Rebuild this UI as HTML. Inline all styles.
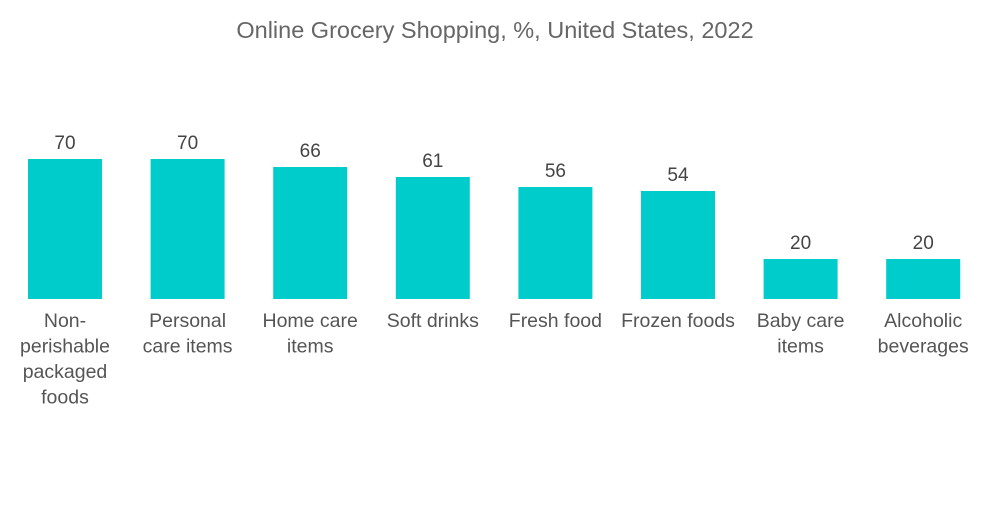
<!DOCTYPE html>
<html><head><meta charset="utf-8"><style>
body{margin:0;background:#fff;width:1000px;height:504px;overflow:hidden;font-family:"Liberation Sans",sans-serif}
</style></head><body>
<svg id="chart" width="1000" height="504">
<text x="495" y="38" text-anchor="middle" font-size="23.5" fill="#666">Online Grocery Shopping, %, United States, 2022</text>
<g id="bars"></g>
</svg>
<script>
const categories=[["Non-","perishable","packaged","foods"],["Personal","care items"],["Home care","items"],["Soft drinks"],["Fresh food"],["Frozen foods"],["Baby care","items"],["Alcoholic","beverages"]];
const values=[70,70,66,61,56,54,20,20];
const baseY=299, scale=2, x0=65, step=122.6, bw=74;
const xPos=i=>x0+i*step;
const yPos=v=>baseY-v*scale;
const g=document.getElementById('bars');
const NS='http://www.w3.org/2000/svg';
values.forEach((v,i)=>{
  const r=document.createElementNS(NS,'rect');
  r.setAttribute('x',xPos(i)-bw/2);r.setAttribute('y',yPos(v));
  r.setAttribute('width',bw);r.setAttribute('height',baseY-yPos(v));
  r.setAttribute('fill','#00cccc');
  
  
  g.appendChild(r);
  const t=document.createElementNS(NS,'text');
  t.setAttribute('x',xPos(i));t.setAttribute('y',yPos(v)-10);
  t.setAttribute('text-anchor','middle');t.setAttribute('font-size','19');t.setAttribute('fill','#444');
  t.textContent=v;
  
  
  g.appendChild(t);
  categories[i].forEach((line,j)=>{
    const c=document.createElementNS(NS,'text');
    c.setAttribute('x',xPos(i));c.setAttribute('y',327+j*25.5);
    c.setAttribute('text-anchor','middle');c.setAttribute('font-size','19.5');c.setAttribute('fill','#555');
    c.textContent=line;
    
    
    g.appendChild(c);
  });
});
</script>
</body></html>
